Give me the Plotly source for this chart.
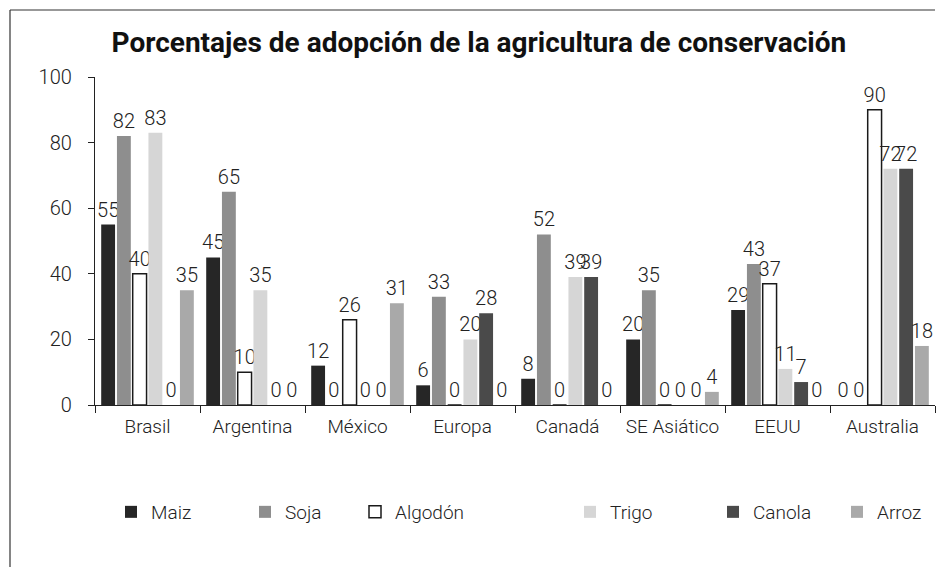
import plotly.graph_objects as go

categories = ["Brasil", "Argentina", "México", "Europa", "Canadá", "SE Asiático", "EEUU", "Australia"]
maiz = [55, 45, 12, 6, 8, 20, 29, 0]
soja = [82, 65, 0, 33, 52, 35, 43, 0]
algodon = [40, 10, 26, 0, 0, 0, 37, 90]
trigo = [83, 35, 0, 20, 39, 0, 11, 72]
canola = [0, 0, 0, 28, 39, 0, 7, 72]
arroz = [35, 0, 31, 0, 0, 4, 0, 18]

series = [
    ("Maiz", maiz, "#262626", "#262626"),
    ("Soja", soja, "#8e8e8e", "#8e8e8e"),
    ("Algodón", algodon, "#ffffff", "#1a1a1a"),
    ("Trigo", trigo, "#d6d6d6", "#d6d6d6"),
    ("Canola", canola, "#4a4a4a", "#262626"),
    ("Arroz", arroz, "#a9a9a9", "#a9a9a9"),
]
legend_px = [131, 265, 375, 590, 733, 857]

W, H = 939, 567
L, R, T, B = 95, 4, 77, 162
PW, PH = W - L - R, H - T - B
font_main = "Roboto, sans-serif"

fig = go.Figure()
layout_legends = {}
for i, (name, vals, fill, line) in enumerate(series):
    lg = "legend" if i == 0 else f"legend{i+1}"
    fig.add_trace(go.Bar(
        name=name, x=categories, y=vals,
        marker=dict(color=fill, line=dict(color=line, width=1.5 if name == "Algodón" else 0)),
        text=[str(v) for v in vals], textposition="outside",
        textfont=dict(size=20, color="#222", family=font_main, weight=300),
        constraintext="none", cliponaxis=False,
        legend=lg,
    ))
    layout_legends[lg] = dict(
        x=(legend_px[i] - 20 - L) / PW, y=(T + PH - 512) / PH, xref="paper", yref="paper",
        xanchor="left", yanchor="middle", orientation="h",
        bgcolor="rgba(0,0,0,0)", borderwidth=0, itemwidth=30,
        font=dict(size=19, color="#222", family=font_main, weight=300),
    )

fig.update_layout(
    width=W, height=H,
    margin=dict(l=L, r=R, t=T, b=B),
    paper_bgcolor="white", plot_bgcolor="white",
    barmode="group", bargap=0.1, bargroupgap=0.12,
    title=dict(text="<b>Porcentajes de adopción de la agricultura de conservación</b>",
               x=0.51, xanchor="center", y=1 - 42 / H, yanchor="middle",
               font=dict(size=28, color="#111", family=font_main)),
    xaxis=dict(showline=True, linecolor="#222", linewidth=1.2, ticks="outside", ticklen=7,
               tickson="boundaries", tickcolor="#222", showgrid=False, ticklabelstandoff=4,
               tickfont=dict(size=19, color="#222", family=font_main, weight=300)),
    yaxis=dict(range=[0, 100], dtick=20, showline=True, linecolor="#222", linewidth=1.2,
               ticks="outside", ticklen=6, tickcolor="#222", showgrid=False, zeroline=False,
               ticklabelstandoff=12,
               tickfont=dict(size=20, color="#222", family=font_main, weight=300)),
    showlegend=True,
    **layout_legends,
    shapes=[
        dict(type="line", xref="paper", yref="paper", x0=-(L - 10) / PW, x1=1.0,
             y0=1 + (T - 10) / PH, y1=1 + (T - 10) / PH, line=dict(color="#333", width=1.2)),
        dict(type="line", xref="paper", yref="paper", x0=-(L - 10) / PW, x1=-(L - 10) / PW,
             y0=-B / PH, y1=1 + (T - 10) / PH, line=dict(color="#333", width=1.2)),
    ],
)

fig.write_html("out.html")
